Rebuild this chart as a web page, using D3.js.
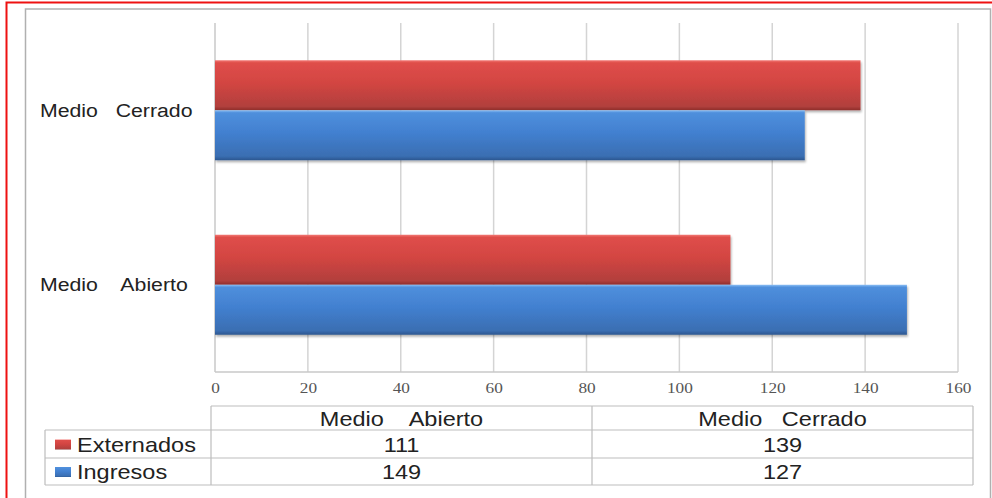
<!DOCTYPE html>
<html>
<head>
<meta charset="utf-8">
<script src="https://cdn.jsdelivr.net/npm/d3@7"></script>
<style>
  html, body { margin: 0; padding: 0; background: #fff; }
  svg { display: block; }
  text { white-space: pre; }
</style>
</head>
<body>
<svg id="chart" width="992" height="498"></svg>
<script>
// Data
const categories = ["Medio Abierto", "Medio Cerrado"];
const categoryLabels = ["Medio    Abierto", "Medio   Cerrado"];
const seriesNames = ["Externados", "Ingresos"];
const externados = [111, 139];
const ingresos = [149, 127];
const xTicks = [0, 20, 40, 60, 80, 100, 120, 140, 160];

const seriesValues = [externados, ingresos];

const svg = d3.select("#chart");
const defs = svg.append("defs");

// Bevelled bar fills
function barGradient(id, stops) {
  const g = defs.append("linearGradient").attr("id", id)
    .attr("x1", 0).attr("y1", 0).attr("x2", 0).attr("y2", 1);
  stops.forEach(([o, c]) => g.append("stop").attr("offset", o).attr("stop-color", c));
}
barGradient("gRed", [[0, "#f27a76"], [0.05, "#df4e4a"], [0.45, "#d34542"], [0.92, "#b2403d"], [1, "#8e2d2b"]]);
barGradient("gBlue", [[0, "#8cc0f5"], [0.05, "#4f8fdc"], [0.45, "#4280d0"], [0.92, "#3a6eb2"], [1, "#2c568f"]]);
const fills = ["url(#gRed)", "url(#gBlue)"];

const shadow = defs.append("filter").attr("id", "shadow")
  .attr("x", "-5%").attr("y", "-20%").attr("width", "110%").attr("height", "150%");
shadow.append("feDropShadow").attr("dx", 1).attr("dy", 2).attr("stdDeviation", 1.2)
  .attr("flood-color", "#000").attr("flood-opacity", 0.3);

// Frames
svg.append("rect").attr("x", 6.5).attr("y", 2.5).attr("width", 1000).attr("height", 520)
  .attr("fill", "none").attr("stroke", "#ee1111").attr("stroke-width", 2);
svg.append("rect").attr("x", 25.5).attr("y", 9).attr("width", 965).attr("height", 520)
  .attr("fill", "none").attr("stroke", "#b0b0b0").attr("stroke-width", 1.5);

// Scales
const x = d3.scaleLinear().domain([0, 160]).range([215, 958]);
const y = d3.scaleBand().domain(categories.slice().reverse()).range([23, 372])
  .paddingInner(0.427).paddingOuter(0.2135);
const ySub = d3.scaleBand().domain(seriesNames).range([0, y.bandwidth()]);

// Text in this chart is set slightly wide
const stretch = 1.12;
function wideText(sel, tx, ty) {
  return sel.attr("transform", (d, i) => `translate(${tx(d, i)},${ty(d, i)}) scale(${stretch},1)`);
}

// Gridlines
svg.append("g").selectAll("line").data(xTicks.slice(1)).join("line")
  .attr("x1", d => x(d)).attr("x2", d => x(d))
  .attr("y1", 23).attr("y2", 372)
  .attr("stroke", "#d4d4d4").attr("stroke-width", 1.5);

// Axis frame lines
svg.append("line").attr("x1", x(0)).attr("x2", x(0)).attr("y1", 23).attr("y2", 372)
  .attr("stroke", "#c8c8c8").attr("stroke-width", 1.5);
svg.append("line").attr("x1", x(0)).attr("x2", x(160)).attr("y1", 372).attr("y2", 372)
  .attr("stroke", "#c8c8c8").attr("stroke-width", 1.5);

// X axis tick labels
const xAxis = d3.axisBottom(x).tickValues(xTicks).tickSize(0).tickPadding(8);
const gx = svg.append("g").attr("transform", "translate(0,374)").call(xAxis);
gx.select(".domain").remove();
gx.selectAll("text").attr("font-family", "'Liberation Serif', 'DejaVu Serif', serif")
  .attr("font-size", 15).attr("fill", "#555").attr("transform", "scale(1.15,1)");

// Bars
const groups = svg.append("g").selectAll("g").data(categories).join("g")
  .attr("transform", d => `translate(0,${y(d)})`);
groups.each(function (cat, ci) {
  const g = d3.select(this);
  seriesNames.forEach((s, si) => {
    const v = seriesValues[si][ci];
    g.append("rect")
      .attr("x", x(0)).attr("y", ySub(s))
      .attr("width", x(v) - x(0)).attr("height", ySub.bandwidth())
      .attr("fill", fills[si]).attr("filter", "url(#shadow)");
  });
});

const tf = "'Liberation Sans', Arial, sans-serif";

// Category labels
wideText(svg.append("g").selectAll("text").data(categories).join("text"),
    () => 40, d => y(d) + y.bandwidth() / 2)
  .attr("dy", "0.35em")
  .attr("font-family", tf)
  .attr("font-size", 19).attr("fill", "#222")
  .text((d, i) => categoryLabels[i]);

// Data table
const colX = [45, 211, 592, 973];
const rowY = [406, 430, 458, 485];
const tbl = svg.append("g").attr("stroke", "#bdbdbd").attr("stroke-width", 1.2);
tbl.append("line").attr("x1", colX[1]).attr("x2", colX[3]).attr("y1", rowY[0]).attr("y2", rowY[0]);
[1, 2, 3].forEach(r => tbl.append("line").attr("x1", colX[0]).attr("x2", colX[3]).attr("y1", rowY[r]).attr("y2", rowY[r]));
tbl.append("line").attr("x1", colX[0]).attr("x2", colX[0]).attr("y1", rowY[1]).attr("y2", rowY[3]);
[1, 2, 3].forEach(c => tbl.append("line").attr("x1", colX[c]).attr("x2", colX[c]).attr("y1", rowY[0]).attr("y2", rowY[3]));

// header
wideText(svg.append("g").selectAll("text").data(categories).join("text"),
    (d, i) => (colX[i + 1] + colX[i + 2]) / 2, () => (rowY[0] + rowY[1]) / 2)
  .attr("dy", "0.36em")
  .attr("text-anchor", "middle").attr("font-family", tf).attr("font-size", 21).attr("fill", "#222")
  .text((d, i) => categoryLabels[i]);

// rows
seriesNames.forEach((s, si) => {
  const cy = (rowY[si + 1] + rowY[si + 2]) / 2;
  svg.append("rect").attr("x", 55).attr("y", cy - 4.5).attr("width", 16).attr("height", 10)
    .attr("fill", fills[si]);
  wideText(svg.append("text"), () => 77, () => cy).attr("dy", "0.36em")
    .attr("font-family", tf).attr("font-size", 21).attr("fill", "#222").text(s);
  wideText(svg.append("g").selectAll("text").data(seriesValues[si]).join("text"),
      (v, ci) => (colX[ci + 1] + colX[ci + 2]) / 2, () => cy)
    .attr("dy", "0.36em")
    .attr("text-anchor", "middle").attr("font-family", tf).attr("font-size", 21).attr("fill", "#222")
    .text(v => v);
});
</script>
</body>
</html>
